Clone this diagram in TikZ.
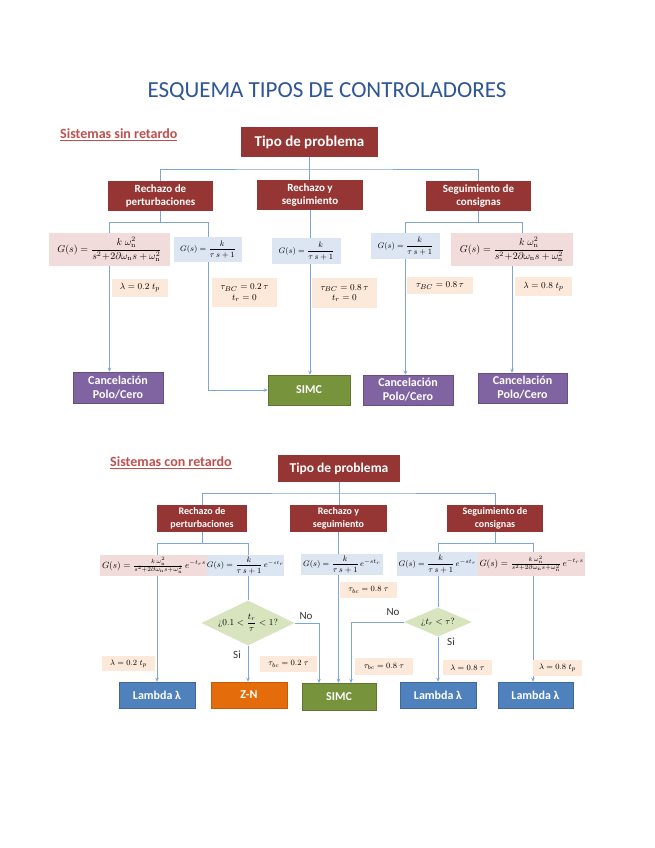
\documentclass[tikz,border=0pt]{standalone}
\usepackage{fontspec}
\usepackage{amsmath}
\newfontfamily\carl{Carlito}
\usetikzlibrary{shapes.geometric,arrows.meta}
\pgfdeclarelayer{bg}
\pgfsetlayers{bg,main}
\definecolor{dred}{RGB}{150,54,52}
\definecolor{linec}{RGB}{125,165,215}
\definecolor{pinkc}{RGB}{242,220,219}
\definecolor{bluec}{RGB}{220,230,242}
\definecolor{peachc}{RGB}{253,233,217}
\definecolor{purp}{RGB}{128,100,162}
\definecolor{greenc}{RGB}{119,147,60}
\definecolor{bluef}{RGB}{79,129,189}
\definecolor{orangec}{RGB}{228,108,10}
\definecolor{diamc}{RGB}{215,228,189}
\definecolor{titleblue}{RGB}{47,85,151}
\definecolor{headred}{RGB}{192,80,77}
\tikzset{
  hdr/.style={fill=dred, text=white, font={\carl\bfseries\fontsize{11}{13}\selectfont}, align=center, inner sep=0pt},
  hdrs/.style={hdr, font={\carl\bfseries\fontsize{10}{13}\selectfont}},
  big/.style={hdr, font={\carl\bfseries\fontsize{15}{16}\selectfont}},
  bigs/.style={hdr, font={\carl\bfseries\fontsize{13.5}{15}\selectfont}},
  pinkbox/.style={fill=pinkc, inner sep=0pt, font={\fontsize{10}{11}\selectfont}},
  bluebox/.style={fill=bluec, inner sep=0pt, font={\fontsize{8.5}{10}\selectfont}},
  peach/.style={fill=peachc, inner sep=0pt, align=center, font={\fontsize{9.5}{10.5}\selectfont}},
  endbox/.style={text=white, font={\carl\bfseries\fontsize{12}{14}\selectfont}, align=center, inner sep=0pt},
  purpbox/.style={endbox, fill=purp, draw=purp!80!black, line width=0.5pt},
  greenbox/.style={endbox, fill=greenc, draw=greenc!80!black, line width=0.5pt},
  lambox/.style={endbox, fill=bluef, draw=bluef!80!black, line width=0.5pt},
  orbox/.style={endbox, fill=orangec, draw=orangec!85!black, line width=0.5pt},
  dia/.style={diamond, fill=diamc, inner sep=0pt},
  lab/.style={font={\carl\fontsize{11}{12}\selectfont}, text=black!80, inner sep=0pt},
  head/.style={anchor=west, font={\carl\bfseries\fontsize{14}{16}\selectfont}, text=headred, inner sep=0pt},
  conn/.style={draw=linec, line width=0.8pt},
  arr/.style={conn, -{Stealth[length=4pt,width=3.5pt]}},
}
\begin{document}
\begin{tikzpicture}[x=1pt,y=-1pt]
\useasboundingbox (0,0) rectangle (655,848);
\begin{pgfonlayer}{bg}
\fill[white] (0,0) rectangle (655,848);
\end{pgfonlayer}

% ---------- title ----------
\node[font={\carl\fontsize{23}{26}\selectfont}, text=titleblue] (title) at (327,92) {ESQUEMA TIPOS DE CONTROLADORES};

% ---------- top section ----------
\node[head] (h1) at (60,135) {\underline{Sistemas sin retardo}};
\node[big, minimum width=137pt, minimum height=30pt] (tipo1) at (309.5,142) {Tipo de problema};
\node[hdr, minimum width=105pt, minimum height=30pt] (rp1) at (160.5,196) {Rechazo de\\perturbaciones};
\node[hdr, minimum width=106pt, minimum height=30pt] (rs1) at (310,195) {Rechazo y\\seguimiento};
\node[hdr, minimum width=105pt, minimum height=30pt] (sc1) at (478.5,196) {Seguimiento de\\consignas};

\node[pinkbox, minimum width=121pt, minimum height=33pt] (g1) at (109.5,249.5) {$G(s)=\dfrac{k\;\omega_{\mathrm n}^2}{s^2\!+\!2\partial\omega_{\mathrm n}s+\omega_{\mathrm n}^2}$};
\node[bluebox, minimum width=68pt, minimum height=25pt] (g2) at (208,249.5) {$G(s)=\dfrac{k}{\tau\,s+1}$};
\node[bluebox, minimum width=69pt, minimum height=26pt] (g3) at (306.5,251) {$G(s)=\dfrac{k}{\tau\,s+1}$};
\node[bluebox, minimum width=69pt, minimum height=26pt] (g4) at (405.5,246) {$G(s)=\dfrac{k}{\tau\,s+1}$};
\node[pinkbox, minimum width=122pt, minimum height=33pt] (g5) at (512,249.5) {$G(s)=\dfrac{k\;\omega_{\mathrm n}^2}{s^2\!+\!2\partial\omega_{\mathrm n}s+\omega_{\mathrm n}^2}$};

\node[peach, minimum width=56pt, minimum height=18pt] (p1) at (140,288) {$\lambda=0.2\;t_p$};
\node[peach, minimum width=65pt, minimum height=29pt] (p2) at (244.5,292.5) {$\tau_{BC}=0.2\,\tau$\\$t_r=0$};
\node[peach, minimum width=65pt, minimum height=30pt] (p3) at (344.5,293) {$\tau_{BC}=0.8\,\tau$\\$t_r=0$};
\node[peach, minimum width=66pt, minimum height=17pt] (p4) at (440,285.5) {$\tau_{BC}=0.8\,\tau$};
\node[peach, minimum width=57pt, minimum height=19pt] (p5) at (543.5,286.5) {$\lambda=0.8\;t_p$};

\node[purpbox, minimum width=90pt, minimum height=31pt] (c1) at (118,387.5) {Cancelación\\Polo/Cero};
\node[greenbox, minimum width=82pt, minimum height=30pt] (simc1) at (309,390) {SIMC};
\node[purpbox, minimum width=90pt, minimum height=30pt] (c2) at (408,390) {Cancelación\\Polo/Cero};
\node[purpbox, minimum width=89pt, minimum height=30pt] (c3) at (522.5,388) {Cancelación\\Polo/Cero};

% ---------- bottom section ----------
\node[head] (h2) at (110,463) {\underline{Sistemas con retardo}};
\node[bigs, minimum width=122pt, minimum height=27pt] (tipo2) at (339,468.5) {Tipo de problema};
\node[hdrs, minimum width=90pt, minimum height=27pt] (rp2) at (202,518.5) {Rechazo de\\perturbaciones};
\node[hdrs, minimum width=97pt, minimum height=27pt] (rs2) at (338.5,518.5) {Rechazo y\\seguimiento};
\node[hdrs, minimum width=96pt, minimum height=27pt] (sc2) at (495,518.5) {Seguimiento de\\consignas};

\node[pinkbox, font={\fontsize{9}{10}\selectfont}, minimum width=108pt, minimum height=21pt] (g6) at (154,565.5) {$G(s)=\tfrac{k\,\omega_{\mathrm n}^2}{s^2+2\partial\omega_{\mathrm n}s+\omega_{\mathrm n}^2}\,e^{-t_r s}$};
\node[bluebox, font={\fontsize{7.8}{9}\selectfont}, minimum width=74pt, minimum height=21pt] (g7) at (245.5,565.5) {$G(s)=\dfrac{k}{\tau\,s+1}\,e^{-st_r}$};
\node[bluebox, font={\fontsize{8}{9}\selectfont}, minimum width=82pt, minimum height=21pt] (g8) at (342,564.5) {$G(s)=\dfrac{k}{\tau\,s+1}\,e^{-st_r}$};
\node[bluebox, font={\fontsize{8}{9}\selectfont}, minimum width=81pt, minimum height=24pt] (g9) at (437.5,564) {$G(s)=\dfrac{k}{\tau\,s+1}\,e^{-st_r}$};
\node[pinkbox, font={\fontsize{9}{10}\selectfont}, minimum width=107pt, minimum height=24pt] (g10) at (531.5,564) {$G(s)=\tfrac{k\,\omega_{\mathrm n}^2}{s^2+2\partial\omega_{\mathrm n}s+\omega_{\mathrm n}^2}\,e^{-t_r s}$};

\node[dia, minimum width=93pt, minimum height=45pt,
      label={[font={\fontsize{9}{10}\selectfont}]center:¿$0.1<\dfrac{t_r}{\tau}<1$?}] (d1) at (248,623) {};
\node[dia, minimum width=68pt, minimum height=29pt,
      label={[font={\fontsize{9}{10}\selectfont}]center:¿$t_r<\tau$?}] (d2) at (438,622) {};

\node[lab] (no1) at (306,616) {No};
\node[lab] (si1) at (237,655) {Si};
\node[lab] (no2) at (393,612) {No};
\node[lab] (si2) at (451,642) {Si};

\node[peach, font={\fontsize{8.5}{9}\selectfont}, minimum width=53pt, minimum height=15pt] (q1) at (128.5,663.5) {$\lambda=0.2\;t_p$};
\node[peach, font={\fontsize{8.5}{9}\selectfont}, minimum width=57pt, minimum height=16pt] (q2) at (288.5,664) {$\tau_{bc}=0.2\;\tau$};
\node[peach, font={\fontsize{8.5}{9}\selectfont}, minimum width=57pt, minimum height=16pt] (q3) at (368.5,590) {$\tau_{bc}=0.8\;\tau$};
\node[peach, font={\fontsize{8.5}{9}\selectfont}, minimum width=58pt, minimum height=17pt] (q4) at (384,666.5) {$\tau_{bc}=0.8\;\tau$};
\node[peach, font={\fontsize{8.5}{9}\selectfont}, minimum width=49pt, minimum height=15pt] (q5) at (467.5,667.5) {$\lambda=0.8\;\tau$};
\node[peach, font={\fontsize{8.5}{9}\selectfont}, minimum width=49pt, minimum height=16pt] (q6) at (557.5,668) {$\lambda=0.8\;t_p$};

\node[lambox, minimum width=76pt, minimum height=26pt] (l1) at (157,695) {Lambda λ};
\node[orbox, minimum width=76pt, minimum height=26pt] (zn) at (249,695) {Z-N};
\node[greenbox, minimum width=74pt, minimum height=27pt] (simc2) at (339,696.5) {SIMC};
\node[lambox, minimum width=76pt, minimum height=26pt] (l2) at (438,695) {Lambda λ};
\node[lambox, minimum width=75pt, minimum height=26pt] (l3) at (535.5,695) {Lambda λ};

% ---------- connectors ----------
\begin{pgfonlayer}{bg}
% top
\coordinate (j1) at (309.5,169);
\draw[conn] (tipo1.south) -- (tipo1.south |- rs1.north);
\draw[conn] (rp1.north) |- (j1) -| (sc1.north);
\coordinate (j2) at (160.5,222);
\draw[conn] (rp1.south) -- (j2);
\coordinate (a1) at (109.5,222);
\coordinate (a2) at (208,222);
\draw[conn] (a1) -- (a2);
\draw[arr] (a1) -- (a1 |- c1.north);
\draw[arr] (a2) |- (simc1.west);
\draw[arr] (rs1.south) -- (rs1.south |- simc1.north);
\coordinate (j3) at (478.5,222);
\draw[conn] (sc1.south) -- (j3);
\coordinate (a3) at (405.5,222);
\coordinate (a4) at (522,222);
\draw[conn] (a3) -- (a4);
\draw[arr] (a3) -- (a3 |- c2.north);
\draw[conn] (a4) -- (a4 |- g5.north);
\coordinate (a5) at (512,266);
\draw[arr] (a5) -- (a5 |- c3.north);
% bottom
\coordinate (j4) at (339,493);
\draw[conn] (tipo2.south) -- (tipo2.south |- rs2.north);
\draw[conn] (rp2.north) |- (j4) -| (sc2.north);
\coordinate (j5) at (202,543);
\draw[conn] (rp2.south) -- (j5);
\coordinate (b1) at (157,543);
\coordinate (b2) at (248,543);
\draw[conn] (b1) -- (b2);
\draw[arr] (b1) -- (b1 |- l1.north);
\draw[conn] (b2) -- (d1.north);
\draw[arr] (d1.south) -- (d1.south |- zn.north);
\coordinate (b3) at (319,683);
\draw[arr] (d1.east) -| (b3);
\draw[arr] (rs2.south) -- (rs2.south |- simc2.north);
\coordinate (j6) at (495,543);
\draw[conn] (sc2.south) -- (j6);
\coordinate (b4) at (438,543);
\coordinate (b5) at (533,543);
\draw[conn] (b4) -- (b5);
\draw[conn] (b4) -- (d2.north);
\draw[arr] (d2.south) -- (l2.north);
\draw[arr] (b5) -- (b5 |- l3.north);
\coordinate (b6) at (351,683);
\draw[arr] (d2.west) -| (b6);
\end{pgfonlayer}
\end{tikzpicture}
\end{document}
